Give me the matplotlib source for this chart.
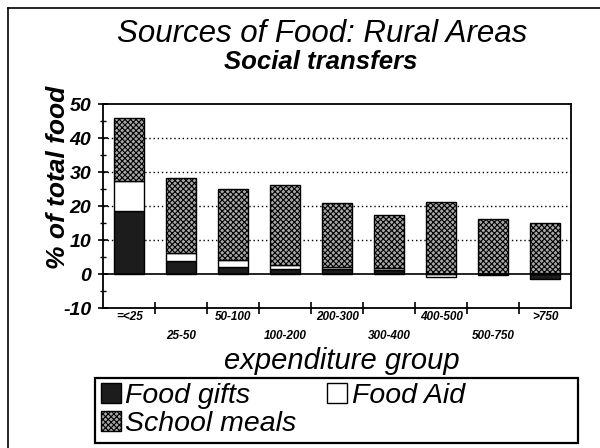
import numpy as np
import matplotlib
matplotlib.use("Agg")
import matplotlib.pyplot as plt
from matplotlib.lines import Line2D
from matplotlib.patches import Rectangle

plt.rcParams["font.family"] = ["Liberation Sans", "DejaVu Sans"]
plt.rcParams["axes.unicode_minus"] = False
plt.rcParams["hatch.linewidth"] = 0.8

# data (% of total food)
groups = ['=<25', '25-50', '50-100', '100-200', '200-300',
          '300-400', '400-500', '500-750', '>750']
food_gifts = [18.5, 3.7, 2.1, 1.6, 1.4, 1.3, 0.0, 0.0, -1.6]
food_aid = [9.0, 2.6, 1.9, 1.2, 0.8, 0.4, -1.0, -0.4, 0.3]
school_meals = [18.3, 22.0, 21.0, 23.5, 18.7, 15.7, 21.3, 16.3, 14.7]

fig = plt.figure(figsize=(6, 4.48), dpi=100)
ax = fig.add_axes([0.172, 0.3125, 0.78, 0.455])

x = np.arange(len(groups))
pos = np.zeros(len(groups))
neg = np.zeros(len(groups))
styles = [
    ("Food gifts", food_gifts, dict(facecolor="#1c1c1c", edgecolor="black")),
    ("Food Aid", food_aid, dict(facecolor="white", edgecolor="black")),
    ("School meals", school_meals, dict(facecolor="#a8a8a8", edgecolor="black", hatch="xxxxxx")),
]
bars = {}
for name, vals, st in styles:
    vals = np.array(vals)
    bottom = np.where(vals >= 0, pos, neg)
    bars[name] = ax.bar(x, vals, 0.58, bottom=bottom, linewidth=1.0, label=name, zorder=3, **st)
    pos = pos + np.where(vals > 0, vals, 0)
    neg = neg + np.where(vals < 0, vals, 0)

ax.set_xlim(-0.5, len(groups) - 0.5)
ax.set_ylim(-10, 50)
for yv in [10, 20, 30, 40]:
    ax.axhline(yv, color="black", linestyle=(0, (1, 2)), linewidth=1.0, zorder=1)
ax.axhline(0, color="black", linewidth=1.2, zorder=4)

ax.set_yticks(range(-10, 51, 10))
ax.set_yticks(range(-5, 50, 10), minor=True)
ax.tick_params(axis="y", which="major", direction="inout", length=7, width=1.2, pad=5)
ax.tick_params(axis="y", which="minor", direction="inout", length=4, width=1)
for t in ax.get_yticklabels():
    t.set_fontsize(14)
    t.set_fontweight("bold")
    t.set_fontstyle("italic")

ax.set_xticks(x[:-1] + 0.5)
ax.set_xticklabels([])
ax.tick_params(axis="x", which="major", direction="inout", length=8, width=1.2)
ax.set_xticks(x, minor=True)
ax.set_xticklabels([g if i % 2 == 0 else "\n" + g for i, g in enumerate(groups)],
                   minor=True, fontsize=8.5, fontweight="bold", fontstyle="italic",
                   linespacing=1.75)
ax.tick_params(axis="x", which="minor", length=0, pad=2)

for s in ax.spines.values():
    s.set_linewidth(1.3)

ax.set_ylabel("% of total food", fontsize=19, fontweight="bold", fontstyle="italic")
ax.yaxis.set_label_coords(-0.072, 0.64)
ax.set_xlabel("expenditure group", fontsize=21, fontstyle="italic")
ax.xaxis.set_label_coords(0.51, -0.19)

fig.text(0.537, 0.924, "Sources of Food: Rural Areas", ha="center", va="center",
         fontsize=22.5, fontstyle="italic")
fig.text(0.535, 0.862, "Social transfers", ha="center", va="center",
         fontsize=18.5, fontweight="bold", fontstyle="italic")

# legend: Food gifts / Food Aid on the first row, School meals below
order = ["Food gifts", "School meals", "Food Aid"]
leg = fig.legend([bars[k] for k in order], order, ncol=2,
                 loc="upper left", bbox_to_anchor=(0.163, 0.151),
                 prop=dict(size=20.5, style="italic"),
                 handlelength=0.7, handleheight=0.7, handletextpad=0.15,
                 labelspacing=0.05, borderpad=0.1, columnspacing=1.1,
                 borderaxespad=0, frameon=False)
fig.add_artist(Rectangle((0.158, 0.011), 0.805, 0.145, transform=fig.transFigure,
                         fill=False, edgecolor="black", linewidth=1.6))

# outer frame of the page
fig.add_artist(Line2D([0.014, 0.014], [0, 0.982], color="black", linewidth=1.2))
fig.add_artist(Line2D([0.014, 1.0], [0.982, 0.982], color="black", linewidth=1.2))

fig.savefig("out.png", dpi=100)
